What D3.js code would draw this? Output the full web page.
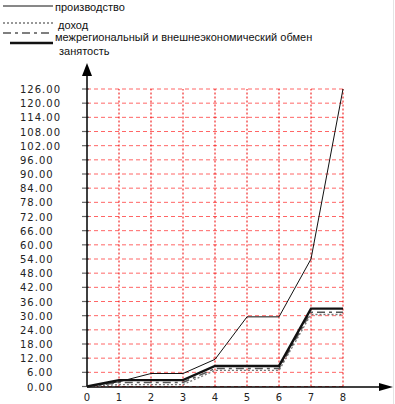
<!DOCTYPE html>
<html>
<head>
<meta charset="utf-8">
<script src="https://cdn.jsdelivr.net/npm/d3@7/dist/d3.min.js"></script>
<style>
  html, body { margin: 0; padding: 0; background: #fff; }
  svg { display: block; }
</style>
</head>
<body>
<svg id="chart" width="395" height="404"></svg>
<script>
// values
const xValues = [0, 1, 2, 3, 4, 5, 6, 7, 8];
const yTicks = d3.range(0, 127, 6);
const seriesNames = ['производство', 'доход', 'межрегиональный и внешнеэкономический обмен', 'занятость'];
const production = [0, 2, 5.5, 5.5, 11.5, 29.5, 29.5, 54, 126];
const income = [0, 0.8, 0.8, 0.8, 6.8, 6.8, 6.8, 30.5, 30.5];
const exchange = [0, 1.7, 1.7, 1.7, 7.6, 7.6, 7.6, 31.5, 31.5];
const employment = [0, 2.7, 2.7, 2.7, 8.7, 8.7, 8.7, 33, 33];

const svg = d3.select('#chart');

const x = d3.scaleLinear().domain([0, 8]).range([87, 343]);
const y = d3.scaleLinear().domain([0, 126]).range([386.5, 89]);

// line styles per series
const styles = [
    { color: '#111', width: 1, dash: null },
    { color: '#777', width: 1.3, dash: '2,2' },
    { color: '#555', width: 1.5, dash: '8,4,3,4' },
    { color: '#111', width: 2.4, dash: null }
];
const series = [production, income, exchange, employment];

// grid
svg.append('g')
    .selectAll('line')
    .data(yTicks)
    .enter()
    .append('line')
    .attr('x1', x(0))
    .attr('x2', x(8))
    .attr('y1', d => y(d))
    .attr('y2', d => y(d))
    .attr('stroke', '#f66')
    .attr('stroke-dasharray', '4,3')
    .attr('stroke-width', 1);

svg.append('g')
    .selectAll('line')
    .data(xValues.slice(1))
    .enter()
    .append('line')
    .attr('x1', d => x(d))
    .attr('x2', d => x(d))
    .attr('y1', y(0))
    .attr('y2', y(126))
    .attr('stroke', '#e00')
    .attr('stroke-dasharray', '2,2')
    .attr('stroke-width', 1);

// y tick marks
svg.append('g')
    .selectAll('line')
    .data(yTicks)
    .enter()
    .append('line')
    .attr('x1', x(0) - 5)
    .attr('x2', x(0) + 2)
    .attr('y1', d => y(d))
    .attr('y2', d => y(d))
    .attr('stroke', '#666')
    .attr('stroke-width', 1.2);

// y labels
svg.append('g')
    .selectAll('text')
    .data(yTicks)
    .enter()
    .append('text')
    .attr('x', d => d.toFixed(2).length > 4 ? 20 : 27)
    .attr('y', d => y(d) + 4)
    .attr('font-family', 'DejaVu Sans')
    .attr('font-size', 10)
    .attr('letter-spacing', 1)
    .attr('fill', '#222')
    .text(d => d.toFixed(2));

// x labels
svg.append('g')
    .selectAll('text')
    .data(xValues)
    .enter()
    .append('text')
    .attr('x', d => x(d))
    .attr('y', 401)
    .attr('text-anchor', 'middle')
    .attr('font-family', 'DejaVu Sans')
    .attr('font-size', 10)
    .attr('fill', '#222')
    .text(d => d);

// axes with arrows
svg.append('line')
    .attr('x1', x(0)).attr('x2', x(0))
    .attr('y1', y(0)).attr('y2', 70)
    .attr('stroke', '#000').attr('stroke-width', 1.5);
svg.append('path')
    .attr('d', `M${x(0)},63 L${x(0) - 5},76 L${x(0) + 5},76 Z`)
    .attr('fill', '#000');

svg.append('line')
    .attr('x1', x(0)).attr('x2', 384)
    .attr('y1', 387).attr('y2', 387)
    .attr('stroke', '#000').attr('stroke-width', 1.5);
svg.append('path')
    .attr('d', 'M393,387 L379,383 L379,391 Z')
    .attr('fill', '#000');

// frame on right edge
svg.append('line')
    .attr('x1', 393.5).attr('x2', 393.5)
    .attr('y1', 0).attr('y2', 404)
    .attr('stroke', '#e4e4e4');

// series lines
const line = d3.line()
    .x((d, i) => x(xValues[i]))
    .y(d => y(d));

svg.append('g')
    .selectAll('path')
    .data(series)
    .enter()
    .append('path')
    .attr('d', d => line(d))
    .attr('fill', 'none')
    .attr('stroke', (d, i) => styles[i].color)
    .attr('stroke-width', (d, i) => styles[i].width)
    .attr('stroke-dasharray', (d, i) => styles[i].dash);

// legend
const legendRows = [
    { y: 6, x1: 3, tx: 55, ty: 11 },
    { y: 23, x1: 3, tx: 58, ty: 29 },
    { y: 33, x1: 3, tx: 55, ty: 41 },
    { y: 43, x1: 10, tx: 59, ty: 55 }
];
const legend = svg.append('g');
legendRows.forEach((r, i) => {
    legend.append('line')
        .attr('x1', r.x1).attr('x2', 53)
        .attr('y1', r.y).attr('y2', r.y)
        .attr('stroke', styles[i].color)
        .attr('stroke-width', styles[i].width)
        .attr('stroke-dasharray', styles[i].dash);
    legend.append('text')
        .attr('x', r.tx)
        .attr('y', r.ty)
        .attr('font-family', 'Liberation Sans')
        .attr('font-size', 11)
        .attr('fill', '#111')
        .text(seriesNames[i]);
});
</script>
</body>
</html>
